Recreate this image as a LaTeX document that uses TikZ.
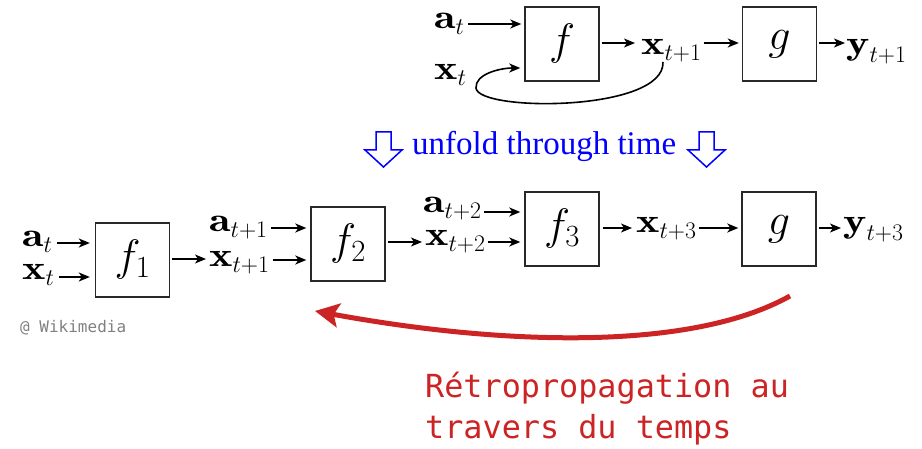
\RequirePackage{fix-cm}
\documentclass[tikz,border=0pt]{standalone}
\usepackage{graphicx}
\usepackage{fontspec}
\usetikzlibrary{arrows.meta}
\newfontfamily\serifT{Liberation Serif}
\newfontfamily\monoD{DejaVu Sans Mono}
\definecolor{redarr}{RGB}{204,36,36}
\definecolor{boxline}{RGB}{40,40,40}
\definecolor{wmgray}{RGB}{128,128,128}
\newcommand{\bv}[1]{\scalebox{1.3}[1]{$\mathbf{#1}$}}
\tikzset{
  box/.style={draw=boxline, line width=1.4pt, minimum width=74pt, minimum height=74pt, inner sep=0pt, font=\fontsize{44}{52}\selectfont},
  lab/.style={inner sep=0pt, anchor=base west, font=\fontsize{34}{40}\selectfont},
  arr/.style={line width=1.6pt, -{Stealth[length=11pt,width=9pt,inset=3pt]}},
  hollow/.style={draw=blue, line width=1.5pt, line join=miter},
}
\begin{document}
\begin{tikzpicture}[x=1pt,y=-1pt]
\useasboundingbox (0,0) rectangle (922,449);
% ---------- top (folded) ----------
\node[box] (f) at (562,44) {$f$};
\node[box] (g) at (779.5,44) {$g$};
\node[lab] (lat) at (434,29) {$\bv{a}_t$};
\node[lab] (lxt) at (434,80) {$\bv{x}_t$};
\node[lab] (lxt1) at (641,55) {$\bv{x}_{t+1}$};
\node[lab] (lyt1) at (846,55) {$\bv{y}_{t+1}$};
\draw[arr, shorten <=3pt, shorten >=3pt] (lat.east |- 0,24) -- (f.west |- 0,24);
\draw[arr, shorten <=2pt, shorten >=6pt] (f.east |- 0,43) -- (lxt1.west |- 0,43);
\draw[arr, shorten <=2pt, shorten >=3pt] (lxt1.east |- 0,43) -- (g.west |- 0,43);
\draw[arr, shorten <=2pt, shorten >=1pt] (g.east |- 0,43) -- (lyt1.west |- 0,43);
\coordinate (cs) at (663,62);
\draw[arr, shorten >=4pt] (cs) .. controls (665,112) and (478,112) .. (476,88) .. controls (475,74) and (500,68) .. (f.west |- 0,68);
% ---------- unfold ----------
\node[inner sep=0pt, anchor=base west, text=blue, font=\serifT\fontsize{33}{40}\selectfont] (unf) at (412,155) {unfold through time};
\draw[hollow] (376,132) -- (391,132) -- (391,150) -- (402,150) -- (383.5,167) -- (365,150) -- (376,150) -- cycle;
\draw[hollow] (699,132) -- (714,132) -- (714,150) -- (725,150) -- (706.5,167) -- (688,150) -- (699,150) -- cycle;
% ---------- bottom (unfolded) ----------
\node[box] (f1) at (132.5,260) {$f_1$};
\node[box] (f2) at (348,244) {$f_2$};
\node[box] (f3) at (562,229) {$f_3$};
\node[box] (g2) at (779,229) {$g$};
\node[lab] (ba0) at (22,247) {$\bv{a}_t$};
\node[lab] (bx0) at (22,280) {$\bv{x}_t$};
\node[lab] (ba1) at (209,232) {$\bv{a}_{t+1}$};
\node[lab] (bx1) at (209,267) {$\bv{x}_{t+1}$};
\node[lab] (ba2) at (423,213) {$\bv{a}_{t+2}$};
\node[lab] (bx2) at (425,246) {$\bv{x}_{t+2}$};
\node[lab] (bx3) at (636,233) {$\bv{x}_{t+3}$};
\node[lab] (by3) at (843,233) {$\bv{y}_{t+3}$};
\draw[arr, shorten <=4pt, shorten >=5pt] (ba0.east |- 0,243) -- (f1.west |- 0,243);
\draw[arr, shorten <=4pt, shorten >=5pt] (bx0.east |- 0,277) -- (f1.west |- 0,277);
\draw[arr, shorten <=2pt, shorten >=3pt] (f1.east |- 0,259) -- (bx1.west |- 0,259);
\draw[arr, shorten <=3pt, shorten >=4pt] (ba1.east |- 0,228) -- (f2.west |- 0,228);
\draw[arr, shorten <=3pt, shorten >=4pt] (bx1.east |- 0,260) -- (f2.west |- 0,260);
\draw[arr, shorten <=2pt, shorten >=3pt] (f2.east |- 0,242) -- (bx2.west |- 0,242);
\draw[arr, shorten <=2pt, shorten >=4pt] (ba2.east |- 0,212) -- (f3.west |- 0,212);
\draw[arr, shorten <=2pt, shorten >=4pt] (bx2.east |- 0,242) -- (f3.west |- 0,242);
\draw[arr, shorten <=3pt, shorten >=4pt] (f3.east |- 0,228) -- (bx3.west |- 0,228);
\draw[arr, shorten <=2pt, shorten >=3pt] (bx3.east |- 0,228) -- (g2.west |- 0,228);
\draw[arr, shorten <=2pt, shorten >=2pt] (g2.east |- 0,228) -- (by3.west |- 0,228);
% ---------- backprop ----------
\coordinate (bs) at (790,296);
\coordinate (be) at (315,311);
\draw[redarr, line width=5pt, -{Stealth[length=24pt,width=24pt,inset=5pt]}] (bs) .. controls (690,352) and (500,345) .. (be);
\node[inner sep=0pt, anchor=base west, text=redarr, font=\monoD\fontsize{31.8}{38}\selectfont] (bp1) at (425,397) {Rétropropagation au};
\node[inner sep=0pt, anchor=base west, text=redarr, font=\monoD\fontsize{31.8}{38}\selectfont] (bp2) at (425,438) {travers du temps};
\node[inner sep=0pt, anchor=base west, text=wmgray, font=\monoD\fontsize{16}{19}\selectfont] (wm) at (20,333) {@ Wikimedia};
\end{tikzpicture}
\end{document}
